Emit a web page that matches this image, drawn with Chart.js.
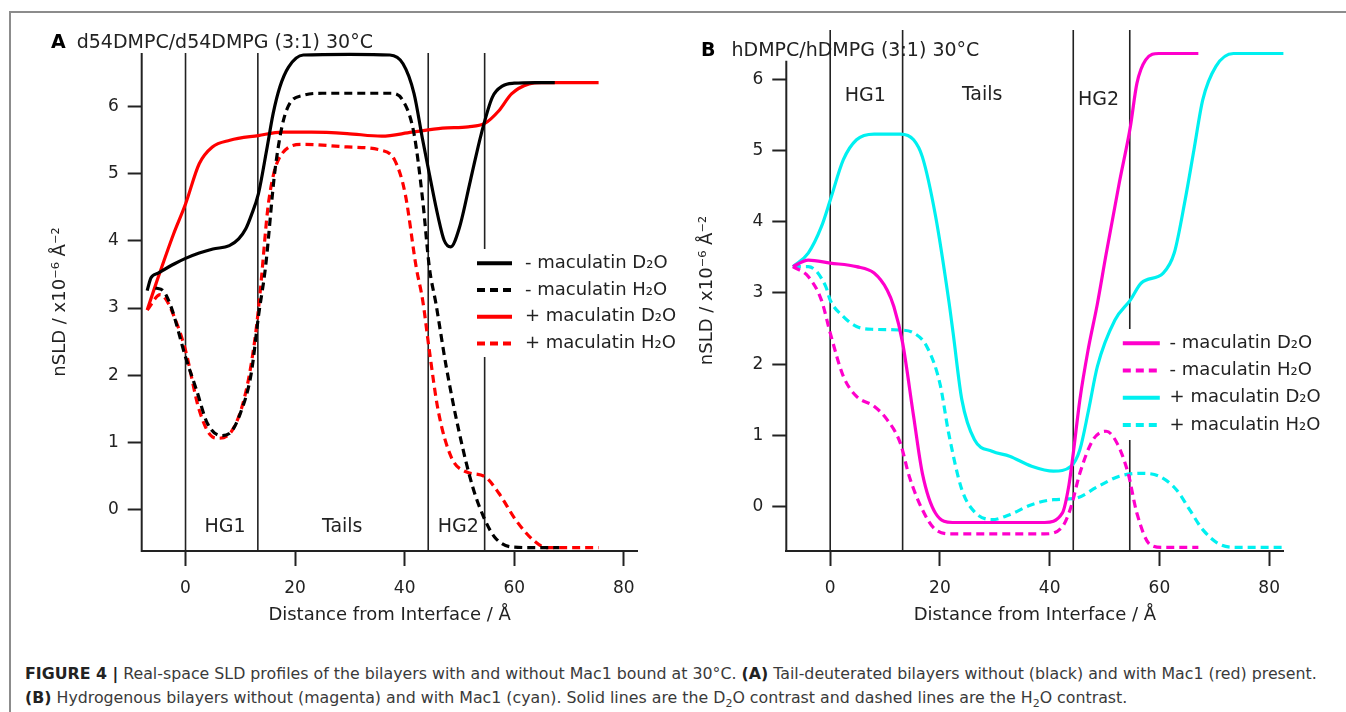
<!DOCTYPE html>
<html>
<head>
<meta charset="utf-8">
<script src="https://cdn.jsdelivr.net/npm/chart.js@4.4.1/dist/chart.umd.min.js"></script>
<style>
  body { margin: 0; background: #fff; width: 1346px; height: 712px; overflow: hidden; position: relative; font-family: 'DejaVu Sans', sans-serif; }
  #frame { position: absolute; left: 9px; top: 11px; width: 1400px; height: 800px; border-left: 2px solid #8c8c8c; border-top: 2px solid #8c8c8c; }
  .wrap { position: absolute; top: 0; }
  .ptitle { position: absolute; font-size: 19px; line-height: 22px; color: #222; white-space: nowrap; }
  .ptitle b { color: #000; }
  .caption { position: absolute; left: 25px; top: 662px; font-size: 15.8px; line-height: 24px; color: #3a3a3a; white-space: nowrap; }
  .caption b { color: #222; }
</style>
</head>
<body>
<div id="frame"></div>
<div class="wrap" style="left:0"><canvas id="chartA" width="680" height="640"></canvas></div>
<div class="wrap" style="left:660px"><canvas id="chartB" width="686" height="640"></canvas></div>
<div class="ptitle" style="left:51px;top:30px"><b>A</b><span style="margin-left:11px">d54DMPC/d54DMPG (3:1) 30°C</span></div>
<div class="ptitle" style="left:701px;top:38px"><b>B</b><span style="margin-left:16px">hDMPC/hDMPG (3:1) 30°C</span></div>
<div class="caption">
  <div><b>FIGURE 4 |</b> Real-space SLD profiles of the bilayers with and without Mac1 bound at 30°C. <b>(A)</b> Tail-deuterated bilayers without (black) and with Mac1 (red) present.</div>
  <div><b>(B)</b> Hydrogenous bilayers without (magenta) and with Mac1 (cyan). Solid lines are the D<sub style="font-size:11px">2</sub>O contrast and dashed lines are the H<sub style="font-size:11px">2</sub>O contrast.</div>
</div>
<script>
// axis ticks and region boundaries (Å)
const xTicks = [0, 20, 40, 60, 80];
const yTicks = [0, 1, 2, 3, 4, 5, 6];
const regionBounds = [0, 13.2, 44.3, 54.6];
const regionNames = ['HG1', 'Tails', 'HG2'];
const seriesLabels = ['- maculatin D₂O', '- maculatin H₂O', '+ maculatin D₂O', '+ maculatin H₂O'];

// panel A: d54DMPC/d54DMPG
const aBlackD2Ox = [-7, -6.3, -5, -2, 0, 2.5, 5, 8, 9.7, 11, 12, 13.3, 14.8, 16, 17.2, 18.8, 21.5, 30, 37.3, 39.7, 41.7, 43.3, 44.5, 46.1, 47.2, 48.4, 50, 52, 54, 56, 57.9, 60, 64, 67.4];
const aBlackD2Oy = [3.26, 3.45, 3.52, 3.66, 3.74, 3.82, 3.88, 3.93, 4.03, 4.18, 4.38, 4.7, 5.35, 5.9, 6.29, 6.59, 6.77, 6.78, 6.77, 6.64, 6.2, 5.5, 5.0, 4.36, 4.01, 3.91, 4.2, 4.9, 5.6, 6.14, 6.31, 6.35, 6.36, 6.36];
const aBlackH2Ox = [-5.5, -4, -2.6, 0, 2, 4, 6.5, 8, 10, 12, 13.3, 14.6, 16.4, 18.4, 21.5, 25, 37.4, 39.7, 41.7, 43.3, 44.5, 45.7, 47.6, 50, 52.4, 54.4, 56.4, 59.5, 64.3, 68.2];
const aBlackH2Oy = [3.3, 3.25, 3.01, 2.27, 1.78, 1.28, 1.1, 1.13, 1.43, 2.03, 2.87, 3.61, 5.1, 5.94, 6.17, 6.2, 6.2, 6.09, 5.6, 4.6, 3.61, 3.07, 2.12, 1.13, 0.34, -0.11, -0.41, -0.56, -0.57, -0.57];
const aRedD2Ox = [-7, -5.4, -2.2, 0, 2.5, 4.9, 8.1, 13.3, 17.6, 23, 29.5, 35.8, 41.3, 46.9, 51.6, 54.6, 57.2, 59.5, 62.7, 65, 75.4];
const aRedD2Oy = [2.97, 3.36, 4.1, 4.55, 5.15, 5.4, 5.5, 5.57, 5.62, 5.62, 5.6, 5.56, 5.62, 5.68, 5.7, 5.75, 5.94, 6.19, 6.34, 6.36, 6.36];
const aRedH2Ox = [-7, -4.6, -3.5, -1.5, 0, 2.5, 4.9, 6.1, 8.9, 11.2, 12.8, 13.6, 15.2, 17.6, 21.5, 29.5, 35.8, 38.2, 40.1, 42.1, 43.3, 44.5, 46.1, 48.5, 51.2, 54.6, 57.2, 60.3, 63.5, 65.9, 75.4];
const aRedH2Oy = [2.97, 3.2, 3.12, 2.75, 2.37, 1.48, 1.08, 1.06, 1.23, 1.82, 2.62, 3.22, 4.6, 5.3, 5.44, 5.4, 5.35, 5.2, 4.7, 3.61, 3.11, 2.37, 1.48, 0.78, 0.56, 0.49, 0.24, -0.16, -0.46, -0.57, -0.57];

// panel B: hDMPC/hDMPG
const bMagD2Ox = [-6.8, -4, 0, 4.8, 8, 10.4, 11.6, 13.2, 15.2, 16.8, 19.2, 22.3, 39.1, 42.3, 43.5, 44.3, 45.5, 47, 48.7, 50.3, 52.7, 54.7, 55.9, 57.5, 59.9, 67.1];
const bMagD2Oy = [3.37, 3.46, 3.42, 3.37, 3.28, 3.04, 2.81, 2.3, 1.27, 0.47, -0.09, -0.22, -0.22, -0.09, 0.3, 0.75, 1.5, 2.2, 2.85, 3.55, 4.55, 5.33, 5.94, 6.27, 6.36, 6.36];
const bMagH2Ox = [-6.8, -4, -1.6, 0, 2.4, 4.8, 8, 10.4, 12.8, 14.4, 16.8, 19.2, 22.3, 39.1, 42.3, 43.9, 45.5, 47.9, 50.3, 52.3, 54.3, 55.9, 58.3, 60.7, 67.1];
const bMagH2Oy = [3.37, 3.23, 2.9, 2.44, 1.83, 1.55, 1.41, 1.22, 0.89, 0.43, -0.04, -0.32, -0.38, -0.38, -0.28, 0.0, 0.47, 0.94, 1.06, 0.89, 0.47, -0.09, -0.53, -0.57, -0.57];
const bCyanD2Ox = [-6.8, -4, -1.6, 0, 2.4, 4.8, 8, 12.8, 15.2, 16.8, 19.2, 21.6, 22.4, 24, 26.3, 29.5, 32.7, 36.7, 40.7, 43.9, 45.5, 47.1, 48.7, 51.9, 54.7, 56.7, 60.7, 62.7, 64.7, 66.3, 67.9, 70.3, 73.5, 82.6];
const bCyanD2Oy = [3.37, 3.56, 3.93, 4.3, 4.87, 5.15, 5.23, 5.23, 5.15, 4.91, 4.08, 2.9, 2.44, 1.5, 0.94, 0.78, 0.71, 0.57, 0.5, 0.57, 0.8, 1.36, 1.97, 2.62, 2.9, 3.14, 3.28, 3.56, 4.31, 5.01, 5.71, 6.18, 6.36, 6.36];
const bCyanH2Ox = [-6.8, -4, -0.8, 0, 2.4, 4.8, 8, 12.8, 15.2, 17.6, 20, 21.6, 24, 26.3, 29.5, 32.7, 36.7, 40.7, 44.7, 48.7, 52.7, 56.7, 59.9, 63.1, 65.5, 67.9, 71.1, 74.3, 82.6];
const bCyanH2Oy = [3.37, 3.37, 3.09, 2.9, 2.67, 2.53, 2.49, 2.48, 2.44, 2.25, 1.73, 1.03, 0.24, -0.07, -0.18, -0.11, 0.03, 0.1, 0.12, 0.28, 0.43, 0.47, 0.43, 0.24, -0.04, -0.32, -0.53, -0.57, -0.57];

const FONT = "'DejaVu Sans', sans-serif";
const INK = '#222';

function series(label, xs, ys, color, dashed) {
  return {
    label: label,
    data: xs.map((x, i) => ({ x: x, y: ys[i] })),
    borderColor: color,
    borderWidth: 3.2,
    borderDash: dashed ? [8, 5] : [],
    borderCapStyle: 'butt',
    pointRadius: 0,
    cubicInterpolationMode: 'monotone',
    fill: false,
    clip: 6
  };
}

// boundary lines, region names, y axis line and legend
const panelDecor = {
  id: 'panelDecor',
  beforeDatasetsDraw(chart, args, o) {
    const ctx = chart.ctx, xs = chart.scales.x, ys = chart.scales.y, area = chart.chartArea;
    ctx.save();
    ctx.strokeStyle = INK;
    ctx.lineWidth = 1.6;
    regionBounds.forEach(v => {
      const px = xs.getPixelForValue(v);
      ctx.beginPath(); ctx.moveTo(px, area.top); ctx.lineTo(px, area.bottom); ctx.stroke();
    });
    ctx.lineWidth = 2;
    ctx.beginPath();
    ctx.moveTo(area.left, area.bottom + 1);
    ctx.lineTo(area.left, ys.getPixelForValue(o.axisTop));
    ctx.stroke();
    ctx.fillStyle = INK;
    ctx.font = '19px ' + FONT;
    ctx.textAlign = 'center';
    ctx.textBaseline = 'middle';
    o.names.forEach((p, i) => {
      ctx.fillText(regionNames[i], xs.getPixelForValue(p[0]), ys.getPixelForValue(p[1]));
    });
    ctx.restore();
  },
  afterDatasetsDraw(chart, args, o) {
    const ctx = chart.ctx, lg = o.legend;
    ctx.save();
    ctx.fillStyle = '#fff';
    ctx.fillRect(lg.box[0], lg.box[1], lg.box[2], lg.box[3]);
    ctx.font = '18px ' + FONT;
    ctx.textAlign = 'left';
    ctx.textBaseline = 'middle';
    chart.data.datasets.forEach((ds, i) => {
      const y = lg.y0 + i * lg.dy;
      ctx.strokeStyle = ds.borderColor;
      ctx.lineWidth = 4;
      ctx.setLineDash(ds.borderDash.length ? [8, 5] : []);
      ctx.beginPath(); ctx.moveTo(lg.x0, y); ctx.lineTo(lg.x0 + lg.w, y); ctx.stroke();
      ctx.setLineDash([]);
      ctx.fillStyle = INK;
      ctx.fillText(ds.label, lg.textX, y);
    });
    ctx.restore();
  }
};

function makePanel(id, datasets, p) {
  return new Chart(document.getElementById(id), {
    type: 'line',
    data: { datasets: datasets },
    options: {
      responsive: false,
      animation: false,
      layout: { padding: { top: p.padTop, right: p.padRight, left: 0, bottom: 0 } },
      plugins: {
        legend: { display: false },
        tooltip: { enabled: false },
        panelDecor: { axisTop: p.axisTop, names: p.names, legend: p.legend }
      },
      scales: {
        x: {
          type: 'linear', min: -8, max: p.xMax,
          afterBuildTicks: s => { s.ticks = xTicks.map(v => ({ value: v })); },
          afterFit: s => { s.height = 89; },
          grid: { drawOnChartArea: false, drawTicks: true, tickLength: 15, tickWidth: 2, tickColor: INK },
          border: { display: true, color: INK, width: 2 },
          ticks: { color: INK, font: { family: FONT, size: 17 }, padding: 12 },
          title: { display: true, text: 'Distance from Interface / Å', color: INK, font: { family: FONT, size: 18 }, padding: { top: 0, bottom: 14 } }
        },
        y: {
          type: 'linear', min: -0.62, max: p.yMax,
          afterBuildTicks: s => { s.ticks = yTicks.map(v => ({ value: v })); },
          afterFit: s => { s.width = p.yWidth; },
          grid: { drawOnChartArea: false, drawTicks: true, tickLength: 14, tickWidth: 2, tickColor: INK },
          border: { display: false },
          ticks: { color: INK, font: { family: FONT, size: 17 }, padding: 9 },
          title: { display: true, text: 'nSLD / x10⁻⁶ Å⁻²', color: INK, font: { family: FONT, size: 18 }, padding: { top: p.yTitlePad, bottom: 0 } }
        }
      }
    },
    plugins: [panelDecor]
  });
}

makePanel('chartA', [
  series(seriesLabels[0], aBlackD2Ox, aBlackD2Oy, '#000000', false),
  series(seriesLabels[1], aBlackH2Ox, aBlackH2Oy, '#000000', true),
  series(seriesLabels[2], aRedD2Ox, aRedD2Oy, '#ff0000', false),
  series(seriesLabels[3], aRedH2Ox, aRedH2Oy, '#ff0000', true)
], {
  padTop: 53, padRight: 42.5, yWidth: 141.7, yMax: 6.8, xMax: 82.5, axisTop: 6.8, yTitlePad: 50,
  names: [[7.2, -0.27], [28.6, -0.27], [49.8, -0.27]],
  legend: { box: [472, 249, 208, 108], x0: 477, w: 35, textX: 525, y0: 263.3, dy: 26.7 }
});

makePanel('chartB', [
  series(seriesLabels[0], bMagD2Ox, bMagD2Oy, '#ff00cc', false),
  series(seriesLabels[1], bMagH2Ox, bMagH2Oy, '#ff00cc', true),
  series(seriesLabels[2], bCyanD2Ox, bCyanD2Oy, '#00f0f0', false),
  series(seriesLabels[3], bCyanH2Ox, bCyanH2Oy, '#00f0f0', true)
], {
  padTop: 30, padRight: 62.6, yWidth: 126.3, yMax: 6.69, xMax: 82.6, axisTop: 6.26, yTitlePad: 37,
  names: [[6.4, 5.76], [27.7, 5.78], [48.9, 5.71]],
  legend: { box: [458, 329, 228, 111], x0: 462.8, w: 37, textX: 509.6, y0: 343.3, dy: 27.2 }
});
</script>
</body>
</html>
